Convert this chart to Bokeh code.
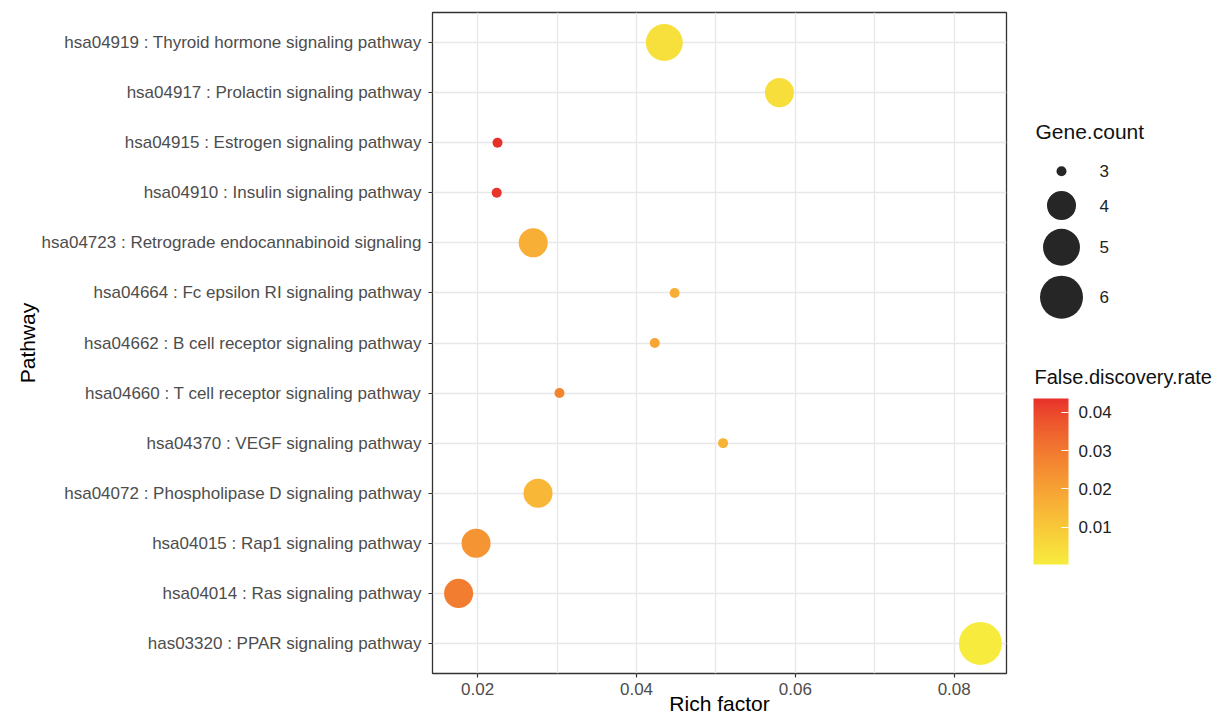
import math
from bokeh.plotting import figure
from bokeh.models import (ColumnDataSource, FactorRange, Range1d, FixedTicker,
                          LinearColorMapper, ColorBar)
from bokeh.layouts import row
from bokeh.embed import file_html
from bokeh.resources import INLINE
from bokeh.core.properties import value

# ---------------- data ----------------
pathways = [
    "hsa04919 : Thyroid hormone signaling pathway",
    "hsa04917 : Prolactin signaling pathway",
    "hsa04915 : Estrogen signaling pathway",
    "hsa04910 : Insulin signaling pathway",
    "hsa04723 : Retrograde endocannabinoid signaling",
    "hsa04664 : Fc epsilon RI signaling pathway",
    "hsa04662 : B cell receptor signaling pathway",
    "hsa04660 : T cell receptor signaling pathway",
    "hsa04370 : VEGF signaling pathway",
    "hsa04072 : Phospholipase D signaling pathway",
    "hsa04015 : Rap1 signaling pathway",
    "hsa04014 : Ras signaling pathway",
    "has03320 : PPAR signaling pathway",
]
rich_factor = [0.0435, 0.0580, 0.0225, 0.0224, 0.0270, 0.0448, 0.0423,
               0.0303, 0.0509, 0.0276, 0.0198, 0.0176, 0.0833]
gene_count = [5, 4, 3, 3, 4, 3, 3, 3, 3, 4, 4, 4, 6]
fdr = [0.0035, 0.0040, 0.0436, 0.0430, 0.0165, 0.0170, 0.0190,
       0.0270, 0.0155, 0.0145, 0.0235, 0.0290, 0.0002]

x_ticks = [0.02, 0.04, 0.06, 0.08]
x_minor = [0.03, 0.05, 0.07]
legend_counts = [3, 4, 5, 6]
cbar_ticks = [0.01, 0.02, 0.03, 0.04]

FONT = "Liberation Sans"

# ---------------- colour scale (Lab interpolation, like ggplot) ----------------
def _lin(c):
    c = c / 255.0
    return c / 12.92 if c <= 0.04045 else ((c + 0.055) / 1.055) ** 2.4

def _gam(c):
    c = 12.92 * c if c <= 0.0031308 else 1.055 * c ** (1 / 2.4) - 0.055
    return max(0, min(255, round(c * 255)))

def hex_to_lab(h):
    r, g, b = (_lin(int(h[i:i + 2], 16)) for i in (1, 3, 5))
    x = (0.4124 * r + 0.3576 * g + 0.1805 * b) / 0.95047
    y = (0.2126 * r + 0.7152 * g + 0.0722 * b) / 1.0
    z = (0.0193 * r + 0.1192 * g + 0.9505 * b) / 1.08883
    f = lambda t: t ** (1 / 3) if t > 0.008856 else 7.787 * t + 16 / 116
    fx, fy, fz = f(x), f(y), f(z)
    return (116 * fy - 16, 500 * (fx - fy), 200 * (fy - fz))

def lab_to_hex(L, a, b):
    fy = (L + 16) / 116
    fx = fy + a / 500
    fz = fy - b / 200
    fi = lambda t: t ** 3 if t ** 3 > 0.008856 else (t - 16 / 116) / 7.787
    x, y, z = fi(fx) * 0.95047, fi(fy), fi(fz) * 1.08883
    r = 3.2406 * x - 1.5372 * y - 0.4986 * z
    g = -0.9689 * x + 1.8758 * y + 0.0415 * z
    bb = 0.0557 * x - 0.2040 * y + 1.0570 * z
    return "#%02x%02x%02x" % (_gam(r), _gam(g), _gam(bb))

low_col, high_col = hex_to_lab("#F7EC3D"), hex_to_lab("#E8302A")
palette = []
for i in range(256):
    t = i / 255
    palette.append(lab_to_hex(*[lo + (hi - lo) * t for lo, hi in zip(low_col, high_col)]))

mapper = LinearColorMapper(palette=palette, low=min(fdr), high=max(fdr))

# ---------------- size scale (ggplot area scale) ----------------
cmin, cmax = min(gene_count), max(gene_count)
D_MIN, D_MAX = 10.0, 43.0

def diameter(c):
    return D_MIN + (D_MAX - D_MIN) * math.sqrt((c - cmin) / (cmax - cmin))

src = ColumnDataSource(dict(
    pathway=pathways, rich=rich_factor, count=gene_count, fdr=fdr,
    size=[diameter(c) for c in gene_count],
))

# ---------------- layout constants (page pixels) ----------------
FRAME_L, FRAME_T, FRAME_W, FRAME_H = 432, 12, 574, 661
MAIN_W = FRAME_L + FRAME_W + 10
FRAME_B = FRAME_T + FRAME_H
LEG_W = 1223 - MAIN_W

# ---------------- main plot ----------------
xr_span = max(rich_factor) - min(rich_factor)
x_lo = min(rich_factor) - 0.05 * xr_span
x_hi = max(rich_factor) + 0.05 * xr_span

p = figure(
    frame_width=FRAME_W, frame_height=FRAME_H,
    x_range=Range1d(x_lo, x_hi),
    y_range=FactorRange(factors=pathways[::-1], range_padding=0.2 / len(pathways),
                        range_padding_units="percent"),
    output_backend="svg", toolbar_location=None,
    min_border_left=FRAME_L, min_border_right=10, min_border_top=FRAME_T,
    min_border_bottom=20,
)
p.background_fill_color = "white"
p.outline_line_color = "#333333"
p.outline_line_width = 1.3

p.scatter(x="rich", y="pathway", size="size", source=src,
          fill_color={"field": "fdr", "transform": mapper},
          line_color=None, fill_alpha=1.0)

p.xaxis.ticker = FixedTicker(ticks=x_ticks, minor_ticks=x_minor)
p.xaxis.axis_label = "Rich factor"
p.yaxis.axis_label = "Pathway"

for ax in (p.xaxis[0], p.yaxis[0]):
    ax.axis_line_color = None
    ax.major_tick_line_color = "#333333"
    ax.major_tick_line_width = 1.2
    ax.major_tick_out = 4
    ax.major_tick_in = 0
    ax.minor_tick_line_color = None
    ax.major_label_text_font = FONT
    ax.major_label_text_font_size = "17px"
    ax.major_label_text_color = "#4D4D4D"
    ax.axis_label_text_font = FONT
    ax.axis_label_text_font_size = "21px"
    ax.axis_label_text_font_style = "normal"
    ax.axis_label_text_color = "#000000"

p.xaxis.major_label_standoff = 5
p.xaxis.axis_label_standoff = -6
p.yaxis.major_label_standoff = 7
p.yaxis.axis_label_standoff = 0

p.xgrid.grid_line_color = "#E8E8E8"
p.xgrid.grid_line_width = 1.4
p.xgrid.minor_grid_line_color = "#E8E8E8"
p.xgrid.minor_grid_line_width = 1.4
p.ygrid.grid_line_color = "#E8E8E8"
p.ygrid.grid_line_width = 1.4

# ---------------- legends panel (coordinates = page pixels) ----------------
lg = figure(frame_width=LEG_W, frame_height=FRAME_H,
            x_range=Range1d(MAIN_W, MAIN_W + LEG_W), y_range=Range1d(FRAME_B, FRAME_T),
            output_backend="svg", toolbar_location=None,
            x_axis_location=None, y_axis_location=None,
            min_border_left=0, min_border_right=0)
lg.grid.visible = False
lg.outline_line_color = None
lg.background_fill_color = None
lg.border_fill_color = None

# size legend
lg.text(x=[1035], y=[131], text=["Gene.count"], text_font=value(FONT),
        text_font_size="21px", text_color="#111111", text_baseline="middle")
key_y = [170.7, 205.0, 246.7, 296.7]
lg.scatter(x=[1061] * len(legend_counts), y=key_y,
           size=[diameter(c) for c in legend_counts],
           fill_color="#262626", line_color=None)
lg.text(x=[1099] * len(legend_counts), y=key_y,
        text=[str(c) for c in legend_counts], text_font=value(FONT),
        text_font_size="17px", text_color="#222222", text_baseline="middle")

# colour legend
lg.text(x=[1034], y=[376], text=["False.discovery.rate"], text_font=value(FONT),
        text_font_size="20px", text_color="#111111", text_baseline="middle")
BAR_L, BAR_TOP, BAR_W, BAR_H = 1033, 398, 35, 166
cb = ColorBar(color_mapper=mapper, ticker=FixedTicker(ticks=cbar_ticks),
              width=BAR_W, height=BAR_H, padding=0,
              location=(BAR_L - MAIN_W, FRAME_B - (BAR_TOP + BAR_H)),
              background_fill_alpha=0, border_line_color=None,
              bar_line_color=None,
              major_tick_line_color="white", major_tick_in=7, major_tick_out=0,
              major_tick_line_width=1.2,
              minor_tick_line_color=None,
              label_standoff=10,
              major_label_text_font=FONT, major_label_text_font_size="17px",
              major_label_text_color="#222222")
lg.add_layout(cb, "center")

# white ticks on the left edge of the bar, as in ggplot's colourbar
lo_v, hi_v = min(fdr), max(fdr)
tick_y = [BAR_TOP + BAR_H - (t - lo_v) / (hi_v - lo_v) * BAR_H for t in cbar_ticks]
lg.segment(x0=[BAR_L] * len(tick_y), x1=[BAR_L + 7] * len(tick_y),
           y0=tick_y, y1=tick_y, line_color="white", line_width=1.2)

layout = row(p, lg, spacing=0)
open("out.html", "w").write(file_html(layout, INLINE))
